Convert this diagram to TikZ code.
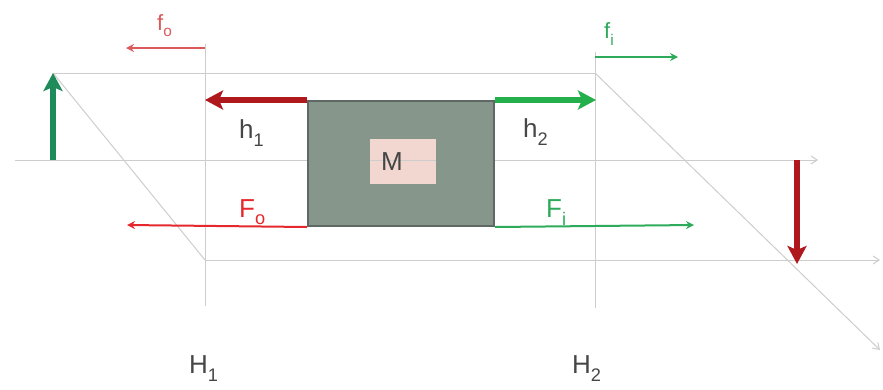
\documentclass[tikz,border=0pt]{standalone}
\usepackage{fontspec}
\setmainfont{Liberation Sans}
\usetikzlibrary{arrows.meta}
\definecolor{gline}{RGB}{205,205,205}
\definecolor{boxfill}{RGB}{134,150,138}
\definecolor{boxedge}{RGB}{95,105,100}
\definecolor{pinkbox}{RGB}{242,214,208}
\definecolor{darkred}{RGB}{175,25,30}
\definecolor{redthin}{RGB}{228,40,45}
\definecolor{redlight}{RGB}{220,90,90}
\definecolor{green1}{RGB}{35,175,75}
\definecolor{green2}{RGB}{30,140,90}
\definecolor{greenthin}{RGB}{45,170,90}
\definecolor{txt}{RGB}{70,70,70}
\newcommand{\lowsub}[1]{\raisebox{-0.3ex}{\textsubscript{#1}}}
\tikzset{
  grayline/.style={draw=gline, line width=1pt},
  grayarrow/.style={draw=gline, line width=1pt, -{Straight Barb[length=6pt,width=8pt]}},
  thickarrow/.style={line width=6pt, -{Stealth[length=18pt,width=19pt,inset=4pt]}},
  thinarrow/.style={line width=2pt, -{Stealth[length=8pt,width=8pt]}},
  lbl/.style={inner sep=0pt, anchor=base west, font=\fontsize{26}{30}\selectfont},
  smalllbl/.style={inner sep=0pt, anchor=base west, font=\fontsize{22}{26}\selectfont}
}
\begin{document}
\begin{tikzpicture}[x=1pt,y=-1pt]
\useasboundingbox (0,0) rectangle (883,389);
% reference points
\coordinate (axL) at (15,160);
\coordinate (axR) at (818,160);
\coordinate (upL) at (53,73);
\coordinate (upR) at (595,73);
\coordinate (loL) at (205,260);
\coordinate (loR) at (880,260);
\coordinate (h1T) at (205,44);
\coordinate (h1B) at (205,306);
\coordinate (h2T) at (595,52);
\coordinate (h2B) at (595,308);
\coordinate (diagE) at (880,350);
\coordinate (gB) at (53,160);
\coordinate (rT) at (797,160);
\coordinate (rB) at (797,264);
% gray construction lines
\draw[grayarrow] (axL) -- (axR);
\draw[grayline] (upL) -- (upR);
\draw[grayarrow] (loL) -- (loR);
\draw[grayline] (h1T) -- (h1B);
\draw[grayline] (h2T) -- (h2B);
\draw[grayline] (upL) -- (loL);
\draw[grayarrow] (upR) -- (diagE);
% box M
\node[draw=boxedge, fill=boxfill, line width=2pt, minimum width=186pt, minimum height=125pt, inner sep=0pt, anchor=north west] (box) at (307,100) {};
\node[fill=pinkbox, minimum width=66pt, minimum height=45pt, inner sep=0pt] (mbox) at (403,161) {};
\draw[grayline] (mbox.west |- axL) -- (mbox.east |- axL);
\node[lbl, text=txt] (M) at (381,170) {M};
% thick arrows
\coordinate (h1tip) at (205,100);
\coordinate (h2tip) at (596,100);
\draw[thickarrow, darkred] (box.north west) -- (h1tip);
\draw[thickarrow, green1] (box.north east) -- (h2tip);
\draw[thickarrow, green2] (gB) -- (upL);
\draw[thickarrow, darkred] (rT) -- (rB);
% thin arrows
\coordinate (Fotip) at (127,225);
\coordinate (Fitip) at (694,225);
\draw[thinarrow, redthin] (box.south west) -- (Fotip);
\draw[thinarrow, greenthin] (box.south east) -- (Fitip);
\coordinate (fostart) at (205,48);
\coordinate (fotip) at (126,48);
\coordinate (fistart) at (595,57);
\coordinate (fitip) at (678,57);
\draw[thinarrow, redlight, line width=1.6pt] (fostart) -- (fotip);
\draw[thinarrow, greenthin, line width=1.6pt] (fistart) -- (fitip);
% labels
\node[smalllbl, text=redlight] (fo) at (157,30) {f\lowsub{o}};
\node[smalllbl, text=greenthin] (fi) at (604,38) {f\lowsub{i}};
\node[lbl, text=txt] (h1) at (239,138) {h\lowsub{1}};
\node[lbl, text=txt] (h2) at (523,137) {h\lowsub{2}};
\node[lbl, text=redthin] (Fo) at (239,217) {F\lowsub{o}};
\node[lbl, text=greenthin] (Fi) at (546,217) {F\lowsub{i}};
\node[lbl, text=txt] (H1) at (189,373) {H\lowsub{1}};
\node[lbl, text=txt] (H2) at (572,373) {H\lowsub{2}};
\end{tikzpicture}
\end{document}
